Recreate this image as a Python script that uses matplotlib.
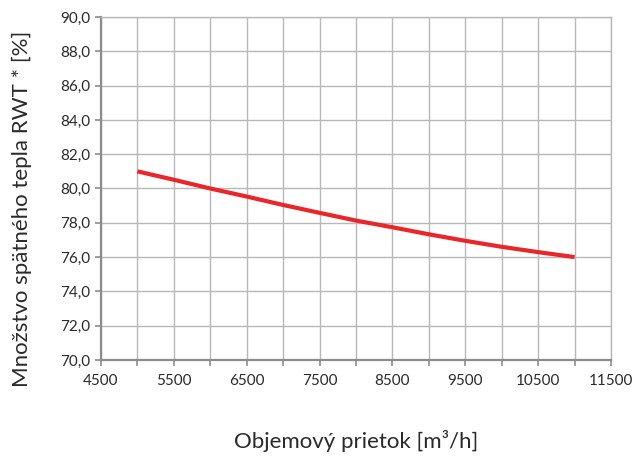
import matplotlib
matplotlib.use("Agg")
from matplotlib import pyplot as plt
from matplotlib.ticker import MultipleLocator, FuncFormatter

# airflow [m3/h] and heat recovery [%]
airflow = [5000, 5500, 6000, 6500, 7000, 7500, 8000, 8500, 9000, 9500, 10000, 10500, 11000]
recovery = [81.0, 80.51, 80.0, 79.53, 79.04, 78.58, 78.13, 77.74, 77.33, 76.95, 76.6, 76.29, 76.0]

x_labels = [4500, 5500, 6500, 7500, 8500, 9500, 10500, 11500]

plt.rcParams["font.family"] = ["Lato", "DejaVu Sans"]

fig = plt.figure(figsize=(6.35, 4.59), dpi=100)
ax = fig.add_axes([101 / 635, 1 - 360 / 459, 510 / 635, 343 / 459])

ax.plot(airflow, recovery, color="#e8262b", linewidth=3.0, solid_capstyle="butt",
        solid_joinstyle="round")

ax.set_xlim(4500, 11500)
ax.set_ylim(70, 90)
ax.xaxis.set_major_locator(MultipleLocator(500))
ax.yaxis.set_major_locator(MultipleLocator(2))
ax.xaxis.set_major_formatter(FuncFormatter(lambda v, p: f"{int(v)}" if int(v) in x_labels else ""))
ax.yaxis.set_major_formatter(FuncFormatter(lambda v, p: f"{v:.1f}".replace(".", ",")))

ax.grid(True, color="#b8b8b8", linewidth=1.0)
ax.set_axisbelow(True)
for side in ["top", "right"]:
    ax.spines[side].set_color("#b8b8b8")
    ax.spines[side].set_linewidth(1.0)
for side in ["left", "bottom"]:
    ax.spines[side].set_color("#8c8c8c")
    ax.spines[side].set_linewidth(1.6)

ax.tick_params(axis="both", direction="out", length=4, width=1.2, color="#8c8c8c",
               labelsize=11, labelcolor="#2a2a2a")
ax.tick_params(axis="x", pad=6)

ax.set_xlabel("Objemový prietok [m³/h]", fontsize=16, color="#2a2a2a")
ax.set_ylabel("Množstvo spätného tepla RWT * [%]", fontsize=16, color="#2a2a2a")
ax.xaxis.set_label_coords(0.5, -0.205)
ax.yaxis.set_label_coords(-0.135, 0.44)

plt.savefig("out.png", dpi=100)
